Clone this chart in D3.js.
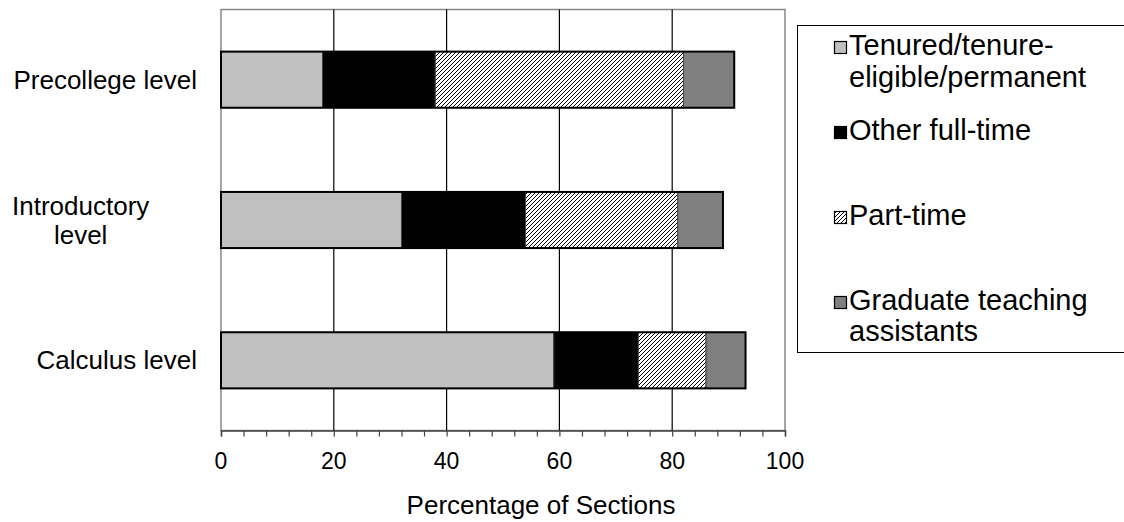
<!DOCTYPE html>
<html><head><meta charset="utf-8">
<script src="https://cdn.jsdelivr.net/npm/d3@7"></script>
<style>html,body{margin:0;padding:0;background:#fff;}svg{display:block;}</style>
</head><body>
<script>
const categories = ["Precollege level", "Introductory level", "Calculus level"];
const categoryLines = [["Precollege level"], ["Introductory", "level"], ["Calculus level"]];
const seriesNames = ["Tenured/tenure-eligible/permanent", "Other full-time", "Part-time", "Graduate teaching assistants"];
const legendLines = [["Tenured/tenure-", "eligible/permanent"], ["Other full-time"], ["Part-time"], ["Graduate teaching", "assistants"]];
const tenured = [18, 32, 59];
const otherFullTime = [20, 22, 15];
const partTime = [44, 27, 12];
const gradTA = [9, 8, 7];
const xTicks = [0, 20, 40, 60, 80, 100];
const xTitle = "Percentage of Sections";

const W = 1124, H = 522;
const svg = d3.select("body").append("svg").attr("width", W).attr("height", H);
const font = "Liberation Sans, Arial, sans-serif";

const defs = svg.append("defs");
const pat = defs.append("pattern").attr("id", "hatch").attr("patternUnits", "userSpaceOnUse")
  .attr("width", 4).attr("height", 4);
pat.append("rect").attr("width", 4).attr("height", 4).attr("fill", "#fff");
pat.append("path").attr("d", "M-1,1 l2,-2 M0,4 l4,-4 M3,5 l2,-2").attr("stroke", "#000").attr("stroke-width", 1);

const fills = ["#c0c0c0", "#000000", "url(#hatch)", "#808080"];
const series = [tenured, otherFullTime, partTime, gradTA];

const plot = {left: 221, right: 785, top: 9.5, bottom: 430.5};
const x = d3.scaleLinear().domain([0, 100]).range([plot.left, plot.right]);
const y = d3.scaleBand().domain(categories).range([plot.top, plot.bottom]).padding(0);
const barH = y.bandwidth() * 0.4;

// plot border
svg.append("rect").attr("x", plot.left).attr("y", plot.top)
  .attr("width", plot.right - plot.left).attr("height", plot.bottom - plot.top)
  .attr("fill", "none").attr("stroke", "#888").attr("stroke-width", 1.5);

// gridlines
svg.append("g").selectAll("line").data(xTicks.filter(t => t > 0 && t < 100)).join("line")
  .attr("x1", d => x(d)).attr("x2", d => x(d)).attr("y1", plot.top).attr("y2", plot.bottom)
  .attr("stroke", "#000").attr("stroke-width", 1.2);

// bars
const stackData = categories.map((c, i) => {
  let acc = 0;
  return series.map((s, k) => { const x0 = acc; acc += s[i]; return {c, k, x0, x1: acc}; });
});
const gBars = svg.append("g");
stackData.forEach(segs => {
  gBars.selectAll(null).data(segs).join("rect")
    .attr("x", d => x(d.x0)).attr("width", d => x(d.x1) - x(d.x0))
    .attr("y", d => y(d.c) + (y.bandwidth() - barH) / 2).attr("height", barH)
    .attr("fill", d => fills[d.k]).attr("stroke", "#444").attr("stroke-width", 1);
  const last = segs[segs.length - 1];
  gBars.append("rect").attr("x", x(0)).attr("width", x(last.x1) - x(0))
    .attr("y", y(last.c) + (y.bandwidth() - barH) / 2).attr("height", barH)
    .attr("fill", "none").attr("stroke", "#000").attr("stroke-width", 2);
});

// x axis
const minor = d3.range(0, 101, 4);
const axisG = svg.append("g").attr("transform", `translate(0,${plot.bottom})`);
axisG.call(d3.axisBottom(x).tickValues(minor).tickSize(6).tickFormat(""))
  .call(g => g.select(".domain").attr("stroke", "#444").attr("stroke-width", 1.5))
  .call(g => g.selectAll(".tick line").attr("stroke", "#444").attr("stroke-width", 1.2));
svg.append("g").selectAll("text").data(xTicks).join("text")
  .attr("x", d => x(d)).attr("y", 469).attr("text-anchor", "middle")
  .attr("font-family", font).attr("font-size", 23).attr("fill", "#000").text(d => d);
svg.append("text").attr("x", 541).attr("y", 514).attr("text-anchor", "middle")
  .attr("font-family", font).attr("font-size", 26).attr("fill", "#000").text(xTitle);

// category labels
categories.forEach((c, i) => {
  const lines = categoryLines[i];
  const cy = y(c) + y.bandwidth() / 2;
  const lh = 29;
  const t = svg.append("text").attr("font-family", font).attr("font-size", 26).attr("fill", "#000")
    .attr("text-anchor", "middle");
  lines.forEach((ln, j) => {
    t.append("tspan").attr("y", cy + 9 + (j - (lines.length - 1) / 2) * lh).text(ln);
  });
  const bb = t.node().getBBox();
  t.selectAll("tspan").attr("x", 197 - bb.width / 2);
});

// legend
const lg = svg.append("g");
lg.append("rect").attr("x", 797.5).attr("y", 25.5).attr("width", 400).attr("height", 327)
  .attr("fill", "#fff").attr("stroke", "#000").attr("stroke-width", 1);
const itemBl = [[55, 87], [140], [225], [310, 341]];
seriesNames.forEach((s, k) => {
  const bl = itemBl[k];
  lg.append("rect").attr("x", 834.5).attr("y", bl[0] - 13.5).attr("width", 12).attr("height", 12)
    .attr("fill", fills[k]).attr("stroke", "#000").attr("stroke-width", 1.2);
  legendLines[k].forEach((ln, j) => {
    lg.append("text").attr("x", 849).attr("y", bl[j]).attr("font-family", font)
      .attr("font-size", 29).attr("fill", "#000").text(ln);
  });
});
</script>
</body></html>
